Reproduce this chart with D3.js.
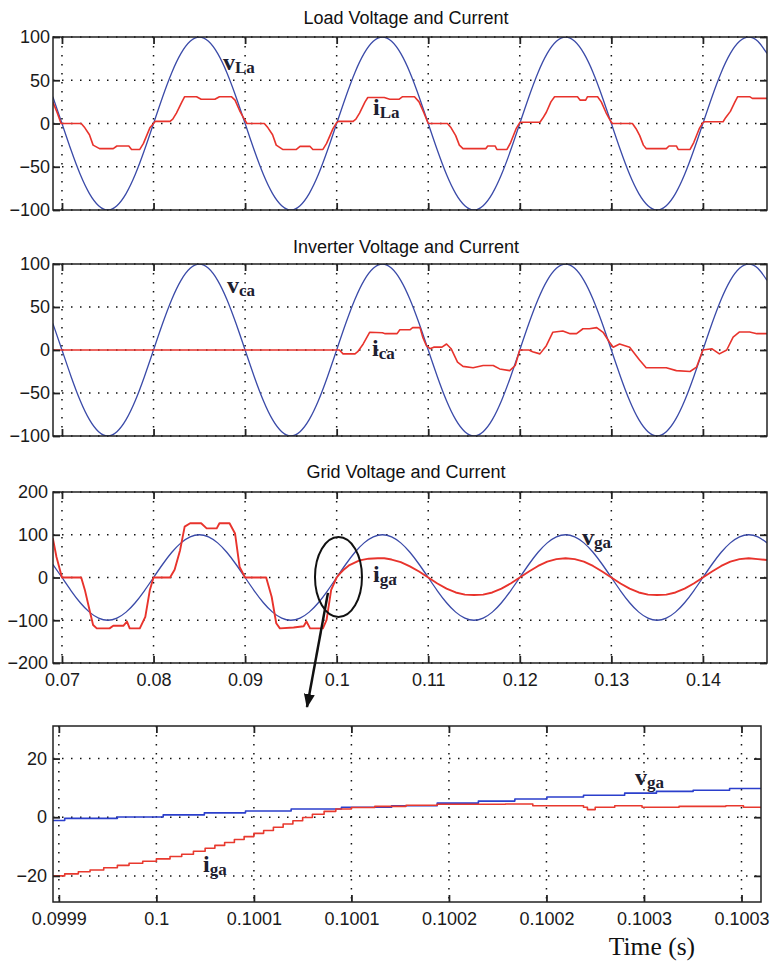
<!DOCTYPE html>
<html><head><meta charset="utf-8">
<script src="https://cdn.jsdelivr.net/npm/d3@7/dist/d3.min.js"></script>
<style>body{margin:0;background:#fff}svg{display:block}</style>
</head><body>
<svg id="c" width="771" height="963"></svg>
<script>
// ---------------- DATA ----------------
// supply voltage (same for load / inverter / grid panels), sampled every 1 ms from 0.069 s
const vStart = 0.069, vStep = 0.001;
const vSupply = [31,0,-31,-59,-81,-95,-100,-95,-81,-59,-31,
  0,31,59,81,95,100,95,81,59,31,
  0,-31,-59,-81,-95,-100,-95,-81,-59,-31,
  0,31,59,81,95,100,95,81,59,31,
  0,-31,-59,-81,-95,-100,-95,-81,-59,-31,
  0,31,59,81,95,100,95,81,59,31,
  0,-31,-59,-81,-95,-100,-95,-81,-59,-31,
  0,31,59,81,95,100,95,81];

// load current iLa [t, A]
const iLa = [
[0.0690,25],[0.0695,12],[0.0699,0],[0.0721,0],[0.0725,-5],[0.0730,-13],[0.0734,-25],[0.0741,-29],[0.0756,-29],[0.0760,-26],[0.0773,-26],[0.0776,-30],[0.0785,-30],[0.0789,-23],[0.0796,-5],[0.0800,0],
[0.0802,2.5],[0.0818,2.5],[0.0821,5],[0.0825,12],[0.0831,25],[0.0834,31],[0.0847,31],[0.0852,28],[0.0867,28],[0.0872,31],[0.0885,31],[0.0889,27],[0.0894,15],[0.0898,7],[0.0902,0],
[0.0921,0],[0.0925,-5],[0.0930,-13],[0.0934,-25],[0.0941,-30],[0.0956,-30],[0.0960,-26.5],[0.0971,-26.5],[0.0974,-30],[0.0985,-30],[0.0989,-23],[0.0996,-6],[0.1000,1],
[0.1002,2.5],[0.1018,2.5],[0.1021,5],[0.1025,12],[0.1031,25],[0.1034,30],[0.1052,30],[0.1058,28],[0.1068,28],[0.1072,31],[0.1085,31],[0.1090,25],[0.1095,13],[0.1100,0],
[0.1121,0],[0.1125,-5],[0.1130,-14],[0.1134,-25],[0.1138,-29],[0.1163,-29],[0.1165,-26],[0.1173,-26],[0.1175,-30],[0.1186,-30],[0.1190,-22],[0.1196,-6],[0.1200,1],
[0.1202,1.5],[0.1222,1.5],[0.1225,6],[0.1229,13],[0.1234,25],[0.1238,31],[0.1263,31],[0.1266,27],[0.1272,27],[0.1274,31],[0.1285,31],[0.1289,25],[0.1294,13],[0.1298,5],[0.1301,0],
[0.1323,0],[0.1327,-6],[0.1331,-14],[0.1335,-25],[0.1338,-29],[0.1360,-29],[0.1363,-26],[0.1371,-26],[0.1373,-30],[0.1386,-30],[0.1390,-22],[0.1396,-6],[0.1400,1],
[0.1402,2],[0.1422,2],[0.1425,7],[0.1430,14],[0.1435,25],[0.1438,31],[0.1451,31],[0.1454,29],[0.1470,29]
];

// inverter current ica [t, A]
const ica = [
[0.0690,0],[0.1003,0],[0.1007,-4.5],[0.1020,-4.5],[0.1023,-2],[0.1029,7],[0.1036,20.6],[0.1050,20],[0.1053,19],[0.1066,19],[0.1069,23.5],[0.1080,23.5],[0.1083,26],[0.1091,26],[0.1094,15],[0.1098,5],[0.1102,1.5],
[0.1106,3.3],[0.1115,3.3],[0.1120,7],[0.1125,1.5],[0.1132,-14],[0.1138,-19],[0.1149,-20.7],[0.1160,-18],[0.1171,-18],[0.1178,-22],[0.1189,-24],[0.1195,-18],[0.1200,0],
[0.1210,0],[0.1214,-2],[0.1222,-4.5],[0.1229,5],[0.1236,20.6],[0.1247,22],[0.1255,19],[0.1262,19],[0.1269,24.7],[0.1276,24.7],[0.1284,26],[0.1291,20.6],[0.1298,9],[0.1302,3.3],
[0.1309,7],[0.1320,3.3],[0.1331,-12],[0.1338,-20.7],[0.1360,-20.7],[0.1371,-24],[0.1386,-25],[0.1393,-20],[0.1400,0],
[0.1410,1.4],[0.1418,-4.5],[0.1426,0],[0.1433,15],[0.1440,21],[0.1451,21],[0.1459,19],[0.1470,19]
];

// grid current iga [t, A]
const iga = [
[0.0690,92],[0.0694,48],[0.0700,0],[0.0721,0],[0.0725,-29],[0.0731,-84],[0.0734,-111],[0.0738,-119],[0.0752,-119],[0.0756,-113],[0.0767,-113],[0.0771,-103],[0.0774,-119],[0.0785,-119],[0.0791,-92],[0.0796,-29],[0.0800,0],
[0.0818,0],[0.0823,18],[0.0829,64],[0.0834,119],[0.0840,127],[0.0852,127],[0.0858,115],[0.0869,115],[0.0872,127],[0.0883,127],[0.0889,103],[0.0894,25],[0.0900,0],
[0.0923,0],[0.0929,-45],[0.0934,-107],[0.0938,-119],[0.0953,-117],[0.0964,-114],[0.0967,-103],[0.0971,-119],[0.0985,-119],[0.0989,-99],[0.0994,-29],[0.1000,0],
[0.1004,10],[0.1007,17],[0.1014,29],[0.1025,40],[0.1035,44],[0.1045,45],[0.1052,45],[0.1060,42],[0.1070,36],[0.1080,26],[0.1090,14],[0.1100,0],
[0.111,-14],[0.112,-26],[0.113,-35],[0.114,-40],[0.115,-41],[0.116,-40],[0.117,-35],[0.118,-26],[0.119,-14],[0.120,0],
[0.121,14],[0.122,27],[0.123,37],[0.124,43],[0.125,45],[0.126,43],[0.127,37],[0.128,27],[0.129,14],[0.130,0],
[0.131,-14],[0.132,-26],[0.133,-35],[0.134,-40],[0.135,-41],[0.136,-40],[0.137,-35],[0.138,-26],[0.139,-14],[0.140,0],
[0.141,14],[0.142,27],[0.143,37],[0.144,43],[0.145,45],[0.146,43],[0.147,41]
];

// zoomed window around t = 0.1 s (staircase samples) [t, value]
const zoomV = [
[0.099947,-1.1],[0.099953,-0.4],[0.099980,0.1],[0.1000035,0.8],[0.1000246,1.5],[0.1000457,2.1],[0.1000691,2.8],[0.1000949,3.4],[0.1001206,3.9],[0.100144,4.8],[0.1001651,5.5],[0.1001838,6.2],[0.1002002,6.9],[0.100219,7.5],[0.1002401,8.2],[0.1002564,8.8],[0.1002752,9.2],[0.1002939,9.8],[0.10031,9.8]
];
const zoomI = [
[0.099947,-20.0],[0.099953,-19.3],[0.099960,-18.6],[0.099966,-18.0],[0.099973,-17.2],[0.099980,-16.4],[0.099986,-15.7],[0.099993,-15.0],[0.100000,-14.2],[0.100007,-13.4],[0.100013,-12.6],[0.100019,-11.6],[0.100025,-10.6],[0.100030,-9.6],[0.100035,-8.6],[0.100040,-7.6],[0.100045,-6.6],[0.100050,-5.5],[0.100055,-4.5],[0.100060,-3.4],[0.100065,-2.3],[0.100070,-1.2],[0.100075,-0.1],[0.100080,1.0],[0.100086,2.0],[0.100092,2.8],[0.100100,3.3],[0.100112,3.7],[0.100128,4.1],[0.100144,4.4],[0.100179,4.5],[0.100193,3.9],[0.100219,3.4],[0.100221,2.6],[0.100225,3.4],[0.100235,3.9],[0.100249,3.4],[0.100268,3.7],[0.100292,3.9],[0.100301,3.4],[0.10031,3.1]
];

const xTicksMain = [0.07,0.08,0.09,0.10,0.11,0.12,0.13,0.14];
const xTickLabelsMain = ["0.07","0.08","0.09","0.1","0.11","0.12","0.13","0.14"];
const xTicksZoom = [0.09995,0.1,0.10005,0.1001,0.10015,0.1002,0.10025,0.1003];
const xTickLabelsZoom = ["0.0999","0.1","0.1001","0.1001","0.1002","0.1002","0.1003","0.1003"];
const yTicks100 = [-100,-50,0,50,100];
const yTicks200 = [-200,-100,0,100,200];
const yTicksZoom = [-20,0,20];
const titles = ["Load Voltage and Current","Inverter Voltage and Current","Grid Voltage and Current"];
const xAxisTitle = "Time (s)";

// curve labels: [panel, main letter, subscript, t, value]
const curveLabels = [
 [0,"v","La",0.08759,61.8],[0,"i","La",0.10397,9.8],
 [1,"v","ca",0.08802,66],[1,"i","ca",0.10386,-6.4],
 [2,"i","ga",0.10397,-10.5],[2,"v","ga",0.12680,76],
 [3,"i","ga",0.1000239,-18.7],[3,"v","ga",0.1002454,11]
];

// ---------------- DRAW ----------------
const BLUE = "#3a4aa8", RED = "#e8332c", BLUE4 = "#2b3fcc", RED4 = "#e8392e";
const vPts = vSupply.map((v,i)=>[vStart + i*vStep, v]);

const panels = [
 {top:37,bottom:210,left:53,right:767,xd:[0.06902,0.147],yd:[-100,100],yt:yTicks100,xt:xTicksMain,xl:null,ypad:3,title:titles[0],tOff:13,
  series:[{d:vPts,c:BLUE,w:1.3,curve:d3.curveNatural},{d:iLa,c:RED,w:1.6,curve:d3.curveLinear}]},
 {top:264,bottom:436,left:53,right:767,xd:[0.06902,0.147],yd:[-100,100],yt:yTicks100,xt:xTicksMain,xl:null,ypad:3,title:titles[1],tOff:11,
  series:[{d:vPts,c:BLUE,w:1.3,curve:d3.curveNatural},{d:ica,c:RED,w:1.6,curve:d3.curveLinear}]},
 {top:492,bottom:663,left:53,right:767,xd:[0.06902,0.147],yd:[-200,200],yt:yTicks200,xt:xTicksMain,xl:xTickLabelsMain,ypad:5,title:titles[2],tOff:14,
  series:[{d:vPts,c:BLUE,w:1.3,curve:d3.curveNatural},{d:iga,c:RED,w:1.9,curve:d3.curveLinear}]},
 {top:726,bottom:902,left:53,right:761,xd:[0.099947,0.10031],yd:[-28.9,31.1],yt:yTicksZoom,xt:xTicksZoom,xl:xTickLabelsZoom,ypad:6,title:null,
  series:[{d:zoomV,c:BLUE4,w:1.6,curve:d3.curveStepAfter},{d:zoomI,c:RED4,w:1.6,curve:d3.curveStepAfter}]}
];

const svg = d3.select("#c");
svg.append("rect").attr("width",771).attr("height",963).attr("fill","#fff");
const defs = svg.append("defs");
defs.append("marker").attr("id","ah").attr("markerUnits","userSpaceOnUse")
  .attr("markerWidth",14).attr("markerHeight",11).attr("refX",13).attr("refY",5.5).attr("orient","auto")
  .append("path").attr("d","M0,0 L14,5.5 L0,11 Z").attr("fill","#111");

const FONT = "'Liberation Sans', Arial, sans-serif";
const SERIF = "'Liberation Serif', 'Times New Roman', serif";
const scales = [];

panels.forEach((p,pi)=>{
  const x = d3.scaleLinear().domain(p.xd).range([p.left,p.right]);
  const y = d3.scaleLinear().domain(p.yd).range([p.bottom,p.top]);
  scales.push({x,y});
  const g = svg.append("g");
  const cid = "clip"+pi;
  defs.append("clipPath").attr("id",cid).append("rect")
    .attr("x",p.left).attr("y",p.top).attr("width",p.right-p.left).attr("height",p.bottom-p.top);

  // grid
  const grid = g.append("g").attr("stroke","#111").attr("stroke-width",1.5).attr("stroke-dasharray","1.5,7.5").attr("fill","none");
  p.xt.forEach(t=>grid.append("line").attr("x1",x(t)).attr("x2",x(t)).attr("y1",p.top).attr("y2",p.bottom));
  p.yt.forEach(v=>grid.append("line").attr("y1",y(v)).attr("y2",y(v)).attr("x1",p.left).attr("x2",p.right));

  // series
  const sg = g.append("g").attr("clip-path",`url(#${cid})`);
  p.series.forEach(s=>{
    const line = d3.line().x(d=>x(d[0])).y(d=>y(d[1])).curve(s.curve);
    sg.append("path").attr("d",line(s.d)).attr("fill","none").attr("stroke",s.c).attr("stroke-width",s.w).attr("stroke-linejoin","round");
  });

  // axes (inward ticks on all four sides)
  const style = sel=>{
    sel.select(".domain").remove();
    sel.selectAll(".tick line").attr("stroke","#222").attr("stroke-width",1.8);
    sel.selectAll(".tick text").attr("fill","#1a1a1a").style("font-family",FONT).style("font-size","18px");
  };
  const bx = d3.axisBottom(x).tickValues(p.xt).tickSizeInner(-7).tickSizeOuter(0).tickPadding(10)
     .tickFormat((d,i)=>p.xl ? p.xl[i] : "");
  g.append("g").attr("transform",`translate(0,${p.bottom})`).call(bx).call(style);
  g.append("g").attr("transform",`translate(0,${p.top})`)
    .call(d3.axisTop(x).tickValues(p.xt).tickSizeInner(-7).tickSizeOuter(0).tickFormat("")).call(style);
  g.append("g").attr("transform",`translate(${p.left},0)`)
    .call(d3.axisLeft(y).tickValues(p.yt).tickSizeInner(-7).tickSizeOuter(0).tickPadding(p.ypad).tickFormat(d3.format("d"))).call(style);
  g.append("g").attr("transform",`translate(${p.right},0)`)
    .call(d3.axisRight(y).tickValues(p.yt).tickSizeInner(-7).tickSizeOuter(0).tickFormat("")).call(style);

  // frame
  g.append("rect").attr("x",p.left).attr("y",p.top).attr("width",p.right-p.left).attr("height",p.bottom-p.top)
    .attr("fill","none").attr("stroke","#222").attr("stroke-width",1.5);

  if(p.title){
    svg.append("text").attr("x",(p.left+p.right)/2-4).attr("y",p.top-p.tOff).attr("text-anchor","middle")
      .style("font-family",FONT).style("font-size","18px").attr("fill","#111").text(p.title);
  }
});

// curve labels
curveLabels.forEach(([pi,m,sub,t,v])=>{
  const s = scales[pi];
  const tx = svg.append("text").attr("x",s.x(t)).attr("y",s.y(v))
    .style("font-family",SERIF).style("font-weight","bold").attr("fill","#1d2030");
  tx.append("tspan").style("font-size","24px").text(m);
  tx.append("tspan").style("font-size","17px").attr("dy",3).text(sub);
});

// ellipse highlight and arrow to zoomed panel
const s3 = scales[2];
svg.append("ellipse").attr("cx",s3.x(0.10020)).attr("cy",s3.y(1)).attr("rx",23.5).attr("ry",40)
  .attr("fill","none").attr("stroke","#111").attr("stroke-width",2);
svg.append("line").attr("x1",s3.x(0.09905)).attr("y1",s3.y(-36)).attr("x2",s3.x(0.09676)).attr("y2",s3.y(-303))
  .attr("stroke","#111").attr("stroke-width",2.5).attr("marker-end","url(#ah)");

// x-axis title
const s4 = scales[3];
svg.append("text").attr("x",s4.x(0.10025)+8).attr("y",955).attr("text-anchor","middle")
  .style("font-family",SERIF).style("font-size","25.5px").attr("fill","#111").text(xAxisTitle);
</script>
</body></html>
